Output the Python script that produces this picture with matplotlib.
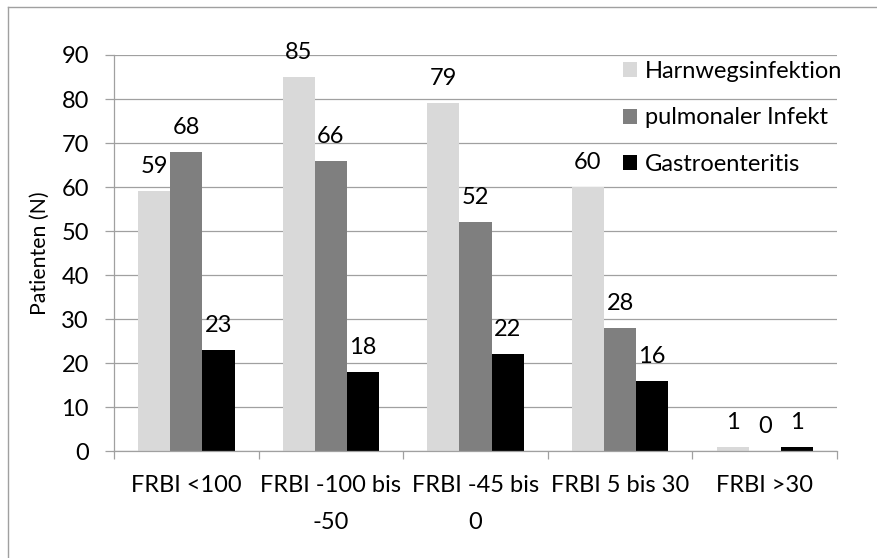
import matplotlib
matplotlib.use('Agg')
import matplotlib.pyplot as plt
import numpy as np
from matplotlib.textpath import TextPath
from matplotlib.font_manager import FontProperties
from matplotlib.lines import Line2D

# ---------------- data ----------------
categories = ['FRBI <100', 'FRBI -100 bis\n-50', 'FRBI -45 bis\n0', 'FRBI 5 bis 30', 'FRBI >30']
series_names = ['Harnwegsinfektion', 'pulmonaler Infekt', 'Gastroenteritis']
harnwegsinfektion = [59, 85, 79, 60, 1]
pulmonaler_infekt = [68, 66, 52, 28, 0]
gastroenteritis = [23, 18, 22, 16, 1]
y_ticks = [0, 10, 20, 30, 40, 50, 60, 70, 80, 90]
y_label = 'Patienten (N)'

series_values = [harnwegsinfektion, pulmonaler_infekt, gastroenteritis]
colors = ['#D9D9D9', '#7F7F7F', '#000000']
GRAY = '#A0A0A0'

FAMILY = ['Lato', 'DejaVu Sans']
plt.rcParams['font.family'] = FAMILY

W, H, DPI = 878, 558, 100


def px(v):
    return v * 72.0 / DPI


# fit font size so text widths match the reference (in pixels)
fp100 = FontProperties(family=FAMILY, size=100)
targets = {'Harnwegsinfektion': 202, 'FRBI <100': 105, 'FRBI -100 bis': 137}
ratios = [t / TextPath((0, 0), s, prop=fp100).get_extents().width for s, t in targets.items()]
em_px = 100 * float(np.mean(ratios))      # font size in pixels
fs = px(em_px)                            # font size in points
l_top = TextPath((0, 0), 'l', prop=fp100).get_extents().ymax / 100 * em_px
lp_ext = TextPath((0, 0), 'lp', prop=fp100).get_extents()
lp_h = lp_ext.height / 100 * em_px

fig = plt.figure(figsize=(W / DPI, H / DPI), dpi=DPI)
fig.patch.set_facecolor('white')

left, right, top, bottom = 114, 837, 55, 451
ax = fig.add_axes([left / W, 1 - bottom / H, (right - left) / W, (bottom - top) / H])

x = np.arange(len(categories))
width = 1 / 4.5
for i, (vals, c, name) in enumerate(zip(series_values, colors, series_names)):
    pos = x + (i - 1) * width
    ax.bar(pos, vals, width, color=c, label=name, zorder=2)
    for xp, v in zip(pos, vals):
        ax.annotate(str(v), (xp, v), xytext=(0, px(18)), textcoords='offset points',
                    ha='center', va='baseline', fontsize=fs, color='black')

ax.set_xlim(-0.5, len(categories) - 0.5)
ax.set_ylim(0, 90)

ax.set_axisbelow(True)
ax.yaxis.grid(True, color=GRAY, linewidth=0.9, zorder=0)

for s in ['top', 'right']:
    ax.spines[s].set_visible(False)
for s in ['left', 'bottom']:
    ax.spines[s].set_color(GRAY)
    ax.spines[s].set_linewidth(0.9)

ax.set_yticks(y_ticks)
ax.set_yticklabels([str(t) for t in y_ticks])
ax.tick_params(axis='y', length=px(9), width=0.9, color=GRAY, pad=px(16), labelsize=fs)

ax.set_xticks(np.arange(-0.5, len(categories), 1.0))
ax.set_xticklabels([])
ax.tick_params(axis='x', which='major', length=px(8), width=0.9, color=GRAY)
ax.set_xticks(x, minor=True)
ax.set_xticklabels(categories, minor=True, fontsize=fs, linespacing=34 / l_top)
ax.tick_params(axis='x', which='minor', length=0, pad=px(24))

ax.set_ylabel(y_label, fontsize=fs * 0.9)
ax.yaxis.label.set_va('center')
ax.yaxis.set_label_coords((40 - left) / (right - left), 0.5)

leg = ax.legend(fontsize=fs, frameon=False,
                handlelength=14 / em_px, handleheight=14 / em_px,
                handletextpad=8 / em_px, labelspacing=(47 - lp_h) / em_px,
                borderpad=0, borderaxespad=0, loc='upper left',
                bbox_to_anchor=(623 / W, 1 - 61 / H), bbox_transform=fig.transFigure)

# outer chart border (top and left visible)
fig.add_artist(Line2D([8 / W, 1.0], [1 - 7 / H, 1 - 7 / H], color=GRAY, lw=1.0,
                      transform=fig.transFigure))
fig.add_artist(Line2D([8 / W, 8 / W], [0.0, 1 - 7 / H], color=GRAY, lw=1.0,
                      transform=fig.transFigure))

fig.savefig('out.png', dpi=DPI, facecolor='white')
